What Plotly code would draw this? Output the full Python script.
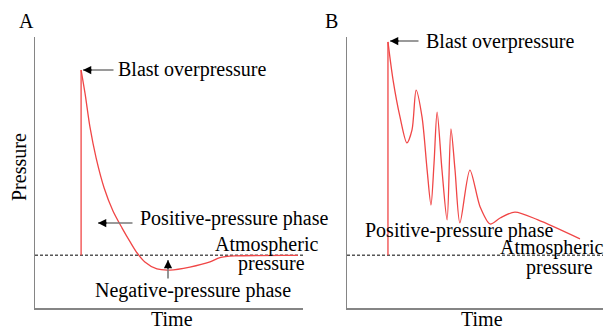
import plotly.graph_objects as go

# ---------------- data (arbitrary units) ----------------
atm_level = 19.5                      # atmospheric pressure level (both panels)
time_span = [0, 100]

# Panel A: Friedlander-type blast wave
a_spike_time = 17.2
a_peak = 87.8
a_time = [17.2, 18.7, 20.5, 22.8, 25.8, 29.1, 32.5, 35.5, 38.1, 41.0, 45.5, 50.4, 57.8, 65.3, 69.0, 74.6, 98.1]
a_pressure = [87.8, 79.0, 66.8, 55.4, 44.3, 35.8, 29.5, 24.4, 20.3, 17.0, 14.4, 14.0, 15.1, 17.0, 18.6, 19.2, 19.4]

# Panel B: complex blast wave with reflections
b_spike_time = 16.0
b_peak = 98.2
b_time = [16.0, 18.0, 20.7, 23.4, 25.4, 27.0, 29.3, 31.3, 32.8, 34.0, 35.2, 37.1, 39.1,
          40.6, 42.2, 44.1, 48.0, 52.0, 55.9, 59.8, 65.6, 74.6, 91.0]
b_pressure = [98.2, 84.1, 70.5, 60.9, 65.7, 80.4, 70.5, 50.9, 38.0, 53.5, 72.3, 50.9, 32.5,
              66.1, 50.9, 31.4, 50.9, 37.3, 31.0, 33.2, 35.4, 32.5, 25.5]

panel_labels = ["A", "B"]
x_title = "Time"
y_title = "Pressure"

# ---------------- styling / layout helpers ----------------
W, H = 605, 329
def PX(x):
    return x / W
def PY(y):
    return 1 - y / H

RED = "rgb(240,70,70)"
AXIS = "#858585"
FONT = "Liberation Serif, Times New Roman, serif"
FS = 20

fig = go.Figure()

def add_panel(xa, ya, spike_t, peak, t, p):
    fig.add_trace(go.Scatter(x=time_span, y=[atm_level, atm_level], mode="lines",
                             line=dict(color="black", width=1, dash="3px,2px"),
                             xaxis=xa, yaxis=ya, cliponaxis=False, hoverinfo="skip"))
    fig.add_trace(go.Scatter(x=[spike_t, spike_t], y=[atm_level, peak], mode="lines",
                             line=dict(color=RED, width=1.3),
                             xaxis=xa, yaxis=ya, cliponaxis=False, hoverinfo="skip"))
    fig.add_trace(go.Scatter(x=t, y=p, mode="lines",
                             line=dict(color=RED, width=1.3, shape="spline", smoothing=0.8),
                             xaxis=xa, yaxis=ya, cliponaxis=False, hoverinfo="skip"))

add_panel("x", "y", a_spike_time, a_peak, a_time, a_pressure)
add_panel("x2", "y2", b_spike_time, b_peak, b_time, b_pressure)

ax_common = dict(range=[0, 100], showline=True, linecolor=AXIS, linewidth=1.5,
                 showgrid=False, zeroline=False, showticklabels=False, ticks="", fixedrange=True)
ydom = [PY(308), PY(37)]
fig.update_layout(
    width=W, height=H, margin=dict(l=0, r=0, t=0, b=0),
    paper_bgcolor="white", plot_bgcolor="white", showlegend=False,
    xaxis=dict(domain=[PX(35), PX(303)], anchor="y", **ax_common),
    yaxis=dict(domain=ydom, anchor="x", **ax_common),
    xaxis2=dict(domain=[PX(347), PX(603)], anchor="y2", **ax_common),
    yaxis2=dict(domain=ydom, anchor="x2", **ax_common),
)

ann = []
def text(s, x, y, xanchor="center", angle=0):
    ann.append(dict(text=s, x=PX(x), y=PY(y), xref="paper", yref="paper",
                    xanchor=xanchor, yanchor="middle", showarrow=False, textangle=angle,
                    font=dict(family=FONT, size=FS, color="black"), borderpad=0))

def arrow(tipx, tipy, tailx, taily):
    # gray shaft
    ann.append(dict(text="", x=PX(tipx), y=PY(tipy), xref="paper", yref="paper",
                    ax=tailx - tipx, ay=taily - tipy, axref="pixel", ayref="pixel",
                    showarrow=True, arrowhead=0, arrowwidth=1.6, arrowcolor="#7a7a7a",
                    font=dict(size=1), borderpad=0))
    # black head
    dx, dy = tailx - tipx, taily - tipy
    n = (dx * dx + dy * dy) ** 0.5
    ann.append(dict(text="", x=PX(tipx), y=PY(tipy), xref="paper", yref="paper",
                    ax=dx / n * 9, ay=dy / n * 9, axref="pixel", ayref="pixel",
                    showarrow=True, arrowhead=2, arrowsize=1.1, arrowwidth=1.5,
                    arrowcolor="black", font=dict(size=1), borderpad=0))

# Panel A texts
text(panel_labels[0], 26, 20.5)
text(y_title, 19, 167, angle=-90)
text(x_title, 172, 319)
text("Blast overpressure", 117, 70, xanchor="left")
text("Positive-pressure phase", 139, 218.5, xanchor="left")
text("Atmospheric", 319, 244.5, xanchor="right")
text("pressure", 306, 263.5, xanchor="right")
text("Negative-pressure phase", 192.5, 290.5)
arrow(83, 70, 114, 70)
arrow(98, 223, 133, 223)
arrow(168, 260, 168, 279)

# Panel B texts
text(panel_labels[1], 331, 20.5)
text(x_title, 482, 319)
text("Blast overpressure", 425, 42, xanchor="left")
text("Positive-pressure phase", 364, 230, xanchor="left")
text("Atmospheric", 604, 247, xanchor="right")
text("pressure", 594, 267, xanchor="right")
arrow(390, 41, 419, 41)

fig.update_layout(annotations=ann)
fig.write_html("out.html",
               config={"displayModeBar": False, "staticPlot": True},
               post_script="document.body.style.margin='0';document.body.style.padding='0';"
                           "document.body.style.overflow='hidden';")
